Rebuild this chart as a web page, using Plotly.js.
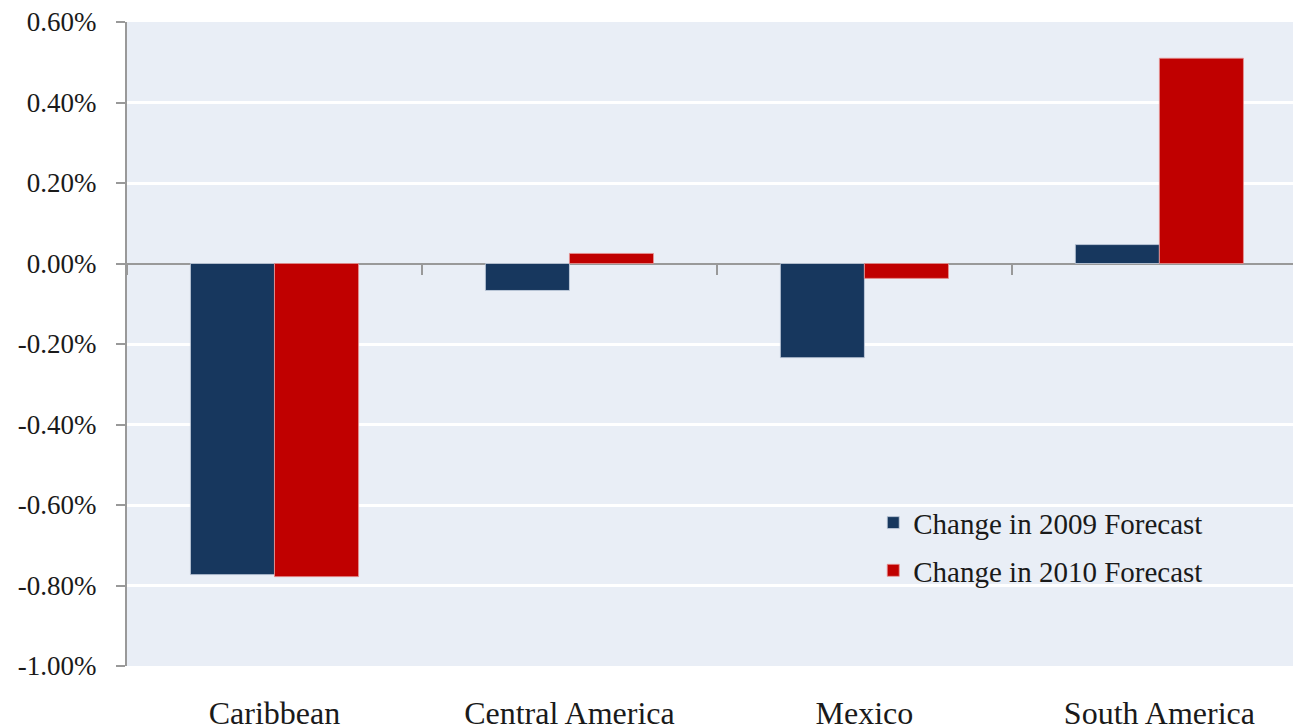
<!DOCTYPE html>
<html>
<head>
<meta charset="utf-8">
<script src="https://cdn.plot.ly/plotly-3.0.1.min.js"></script>
<style>html,body{margin:0;padding:0;background:#fff;}#chart{width:1293px;height:728px;}</style>
</head>
<body>
<div id="chart"></div>
<script>
const regions = ["Caribbean", "Central America", "Mexico", "South America"];
const change2009 = [-0.773, -0.067, -0.234, 0.047];
const change2010 = [-0.778, 0.025, -0.037, 0.510];
const seriesNames = ["Change in 2009 Forecast", "Change in 2010 Forecast"];
const yTicks = [-1.0, -0.8, -0.6, -0.4, -0.2, 0.0, 0.2, 0.4, 0.6];
const yTickText = ["-1.00%", "-0.80%", "-0.60%", "-0.40%", "-0.20%", "0.00%", "0.20%", "0.40%", "0.60%"];

const yRange = [-1.0, 0.6];
const FONT = "'Liberation Serif', 'Times New Roman', serif";

const traces = [
  {type: "bar", name: seriesNames[0], x: regions, y: change2009, legendgroup: "a",
   marker: {color: "#17375E", line: {color: "rgba(200,210,225,0.8)", width: 1}}, hoverinfo: "x+y"},
  {type: "bar", name: seriesNames[1], x: regions, y: change2010, legendgroup: "b",
   marker: {color: "#C00000", line: {color: "rgba(230,150,150,0.8)", width: 1}}, hoverinfo: "x+y"},
  {type: "bar", x: regions, y: regions.map(() => null), xaxis: "x2", showlegend: false, hoverinfo: "skip"}
];

const xr = [-0.5, 3.453];
const layout = {
  width: 1293, height: 728,
  margin: {l: 127, r: 0, t: 22, b: 62},
  paper_bgcolor: "#ffffff",
  plot_bgcolor: "#E9EEF6",
  barmode: "group",
  bargap: 0.43,
  bargroupgap: 0,
  font: {family: FONT, color: "#1a1a1a"},
  xaxis: {
    type: "category", range: xr, showgrid: false, zeroline: false, showline: false,
    ticks: "outside", ticklen: 0, ticklabelstandoff: 19,
    tickfont: {family: FONT, size: 32, color: "#1a1a1a"}
  },
  xaxis2: {
    type: "category", overlaying: "x", anchor: "free",
    position: (0 - yRange[0]) / (yRange[1] - yRange[0]),
    range: xr, showgrid: false, zeroline: false, showline: false,
    tickson: "boundaries", ticks: "outside", ticklen: 10, tickwidth: 2, tickcolor: "#999999",
    showticklabels: false
  },
  yaxis: {
    range: yRange, tickmode: "array", tickvals: yTicks, ticktext: yTickText,
    showgrid: true, gridcolor: "#ffffff", gridwidth: 3,
    zeroline: true, zerolinecolor: "#999999", zerolinewidth: 2,
    showline: true, linecolor: "#999999", linewidth: 2,
    ticks: "outside", ticklen: 9, tickwidth: 2, tickcolor: "#999999",
    ticklabelstandoff: 14,
    tickfont: {family: FONT, size: 27, color: "#1a1a1a"}
  },
  showlegend: true,
  legend: {
    x: 0.64, y: 0.262, xanchor: "left", yanchor: "top",
    bgcolor: "rgba(0,0,0,0)", traceorder: "grouped", tracegroupgap: 7,
    itemwidth: 30,
    font: {family: FONT, size: 29, color: "#1a1a1a"}
  }
};

Plotly.newPlot("chart", traces, layout, {displayModeBar: false, responsive: false});
</script>
</body>
</html>
